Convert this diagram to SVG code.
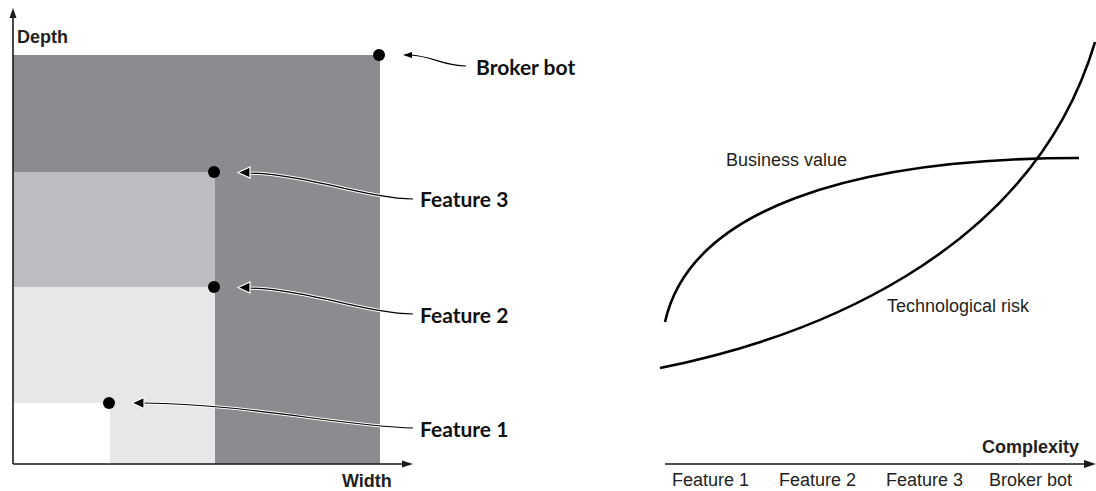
<svg xmlns="http://www.w3.org/2000/svg" width="1096" height="491" viewBox="0 0 1096 491">
<style>
.ax{stroke:#1a1a1a;stroke-width:1.6;fill:none}
.lbl{font-family:"Liberation Sans",Arial,sans-serif;font-size:18px;fill:#231f20}
.b{font-weight:bold}
.ft{font-family:Lato,"Open Sans",sans-serif;font-weight:bold;font-size:21px;fill:#111}
.dot{fill:#000}
.halo{stroke:#fff;stroke-width:3.2;fill:none}
.ln{stroke:#000;stroke-width:1.2;fill:none}
.ah{fill:#000;stroke:#fff;stroke-width:1.2}
.crv{stroke:#000;stroke-width:2.6;fill:none}
</style>
<g id="left-chart">
  <rect x="13" y="55" width="367" height="409" fill="#8b8c90"/>
  <rect x="13" y="172" width="202" height="115" fill="#bcbdc1"/>
  <rect x="13" y="287" width="202" height="116" fill="#e6e7e8"/>
  <rect x="110" y="403" width="105" height="61" fill="#e6e7e8"/>
  <rect x="13" y="403" width="97" height="61" fill="#ffffff"/>
</g>
<g id="axes-left">
  <path class="ax" d="M13,464 V14"/>
  <path d="M13,8 L9.5,18 L16.5,18 Z" fill="#1a1a1a"/>
  <path class="ax" d="M13,464 H404"/>
  <path d="M413,464 L402,460.5 L402,467.5 Z" fill="#1a1a1a"/>
  <text class="lbl b" x="17" y="43">Depth</text>
  <text class="lbl b" x="342" y="487">Width</text>
</g>
<g id="connectors">
  <path class="ln" d="M466,66 C444,66 432,56 410,55"/>
  <path d="M403,55 L412,52 L412,58 Z" fill="#000"/>
  <path class="halo" d="M413,199 C370,199 305,174 248,173"/>
  <path class="ln" d="M413,199 C370,199 305,174 248,173"/>
  <path class="ah" d="M238,172.5 L250,167 L250,178 Z"/>
  <path class="halo" d="M413,314 C370,314 305,289 248,288"/>
  <path class="ln" d="M413,314 C370,314 305,289 248,288"/>
  <path class="ah" d="M238,287.5 L250,282 L250,293 Z"/>
  <path class="halo" d="M413,428 C340,426 250,404 143,403"/>
  <path class="ln" d="M413,428 C340,426 250,404 143,403"/>
  <path class="ah" d="M132,403 L144,397.5 L144,408.5 Z"/>
</g>
<g id="node-broker-bot">
  <circle class="dot" cx="379" cy="55" r="6"/>
  <text class="ft" x="476" y="75">Broker bot</text>
</g>
<g id="node-feature-3">
  <circle class="dot" cx="214" cy="172" r="6"/>
  <text class="ft" x="420" y="207">Feature 3</text>
</g>
<g id="node-feature-2">
  <circle class="dot" cx="214" cy="287" r="6"/>
  <text class="ft" x="420" y="323">Feature 2</text>
</g>
<g id="node-feature-1">
  <circle class="dot" cx="109" cy="403" r="6"/>
  <text class="ft" x="420" y="437">Feature 1</text>
</g>
<g id="right-chart">
  <path class="crv" d="M665,322 C690,210 850,158 1079,158"/>
  <path class="crv" d="M660,368 C800,340 1030,260 1095,42"/>
  <text class="lbl" x="726" y="166">Business value</text>
  <text class="lbl" x="887" y="312">Technological risk</text>
  <path class="ax" d="M665,464 H1085"/>
  <path d="M1096,464 L1084,460 L1084,468 Z" fill="#1a1a1a"/>
  <text class="lbl b" x="982" y="453">Complexity</text>
  <text class="lbl" x="672" y="486">Feature 1</text>
  <text class="lbl" x="779" y="486">Feature 2</text>
  <text class="lbl" x="886" y="486">Feature 3</text>
  <text class="lbl" x="989" y="486">Broker bot</text>
</g>
</svg>
